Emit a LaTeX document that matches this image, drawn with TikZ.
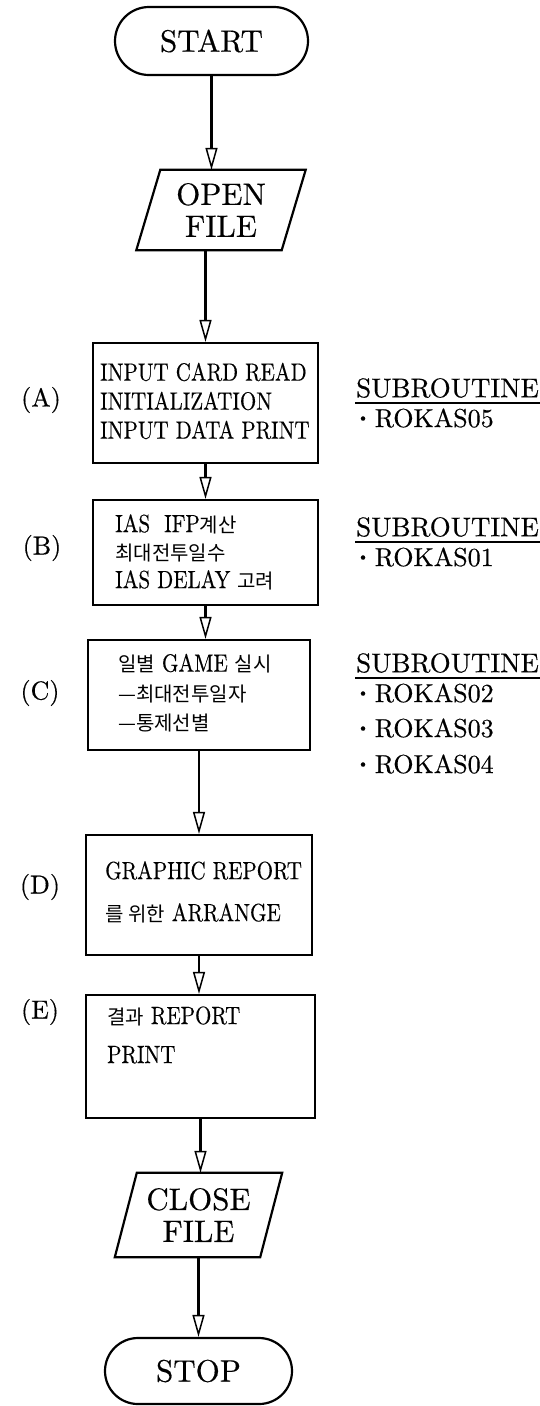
\documentclass[tikz,border=0pt]{standalone}
\usepackage{fontspec}
\usetikzlibrary{arrows.meta,shapes.misc,calc}
\setmainfont{lmroman10-regular}[Extension=.otf, FakeBold=0.4]
\newfontfamily\condlm{lmroman10-regular}[Extension=.otf, FakeStretch=0.84, FakeBold=0.4]
\newfontfamily\kr{Noto Sans CJK KR}
\newcommand{\K}[1]{{\kr\fontsize{20}{20}\selectfont #1}}
\tikzset{
  boxnode/.style={draw, line width=2.2pt, inner sep=0pt},
  termnode/.style={draw, line width=2.2pt, rounded rectangle, inner sep=0pt, font=\fontsize{31}{31}\selectfont},
  paranode/.style={inner sep=0pt, align=center, font=\fontsize{31}{31}\selectfont},
  paraline/.style={line width=2.2pt, line join=miter},
  arr/.style={line width=2.6pt, -{Triangle[open,length=22pt,width=12pt,line width=1.5pt]}},
  boxtext/.style={anchor=west, align=left, inner sep=0pt},
  lbl/.style={inner sep=0pt, font=\fontsize{26}{26}\selectfont},
  subhead/.style={anchor=west, inner sep=0pt, font=\fontsize{27}{27}\selectfont},
  subitem/.style={anchor=west, inner sep=0pt, font=\fontsize{26}{26}\selectfont},
  uline/.style={line width=1.8pt}
}
\newcommand{\bul}{\raisebox{5pt}{\fontsize{15}{15}\selectfont\textbullet}\hspace{6pt}}
\begin{document}
\begin{tikzpicture}[x=1pt,y=-1pt]
\useasboundingbox (0,0) rectangle (540,1406);

% terminals
\node[termnode, minimum width=193, minimum height=68] (start) at (211.5,41) {START};
\node[termnode, minimum width=187, minimum height=66] (stop) at (198.5,1371) {STOP};

% open file
\node[paranode, minimum width=145, minimum height=80] (open) at (221,210) {OPEN\\[1pt]FILE};
\draw[paraline] ($(open.north west)+(12,0)$) -- ($(open.north east)+(12,0)$) -- ($(open.south east)+(-12,0)$) -- ($(open.south west)+(-12,0)$) -- cycle;

% close file
\node[paranode, minimum width=145, minimum height=84] (close) at (198.5,1215) {CLOSE\\[1pt]FILE};
\draw[paraline] ($(close.north west)+(11,0)$) -- ($(close.north east)+(11,0)$) -- ($(close.south east)+(-11,0)$) -- ($(close.south west)+(-11,0)$) -- cycle;

% process boxes
\node[boxnode, minimum width=225, minimum height=120] (a) at (205.5,403) {};
\node[boxnode, minimum width=225, minimum height=105] (b) at (205.5,552.5) {};
\node[boxnode, minimum width=222, minimum height=110] (c) at (199,695) {};
\node[boxnode, minimum width=226, minimum height=120] (d) at (199,895) {};
\node[boxnode, minimum width=229, minimum height=123] (e) at (200.5,1056.5) {};

% box texts
\node[boxtext, font=\condlm\fontsize{25}{29}\selectfont] (atext) at (100,401)
  {INPUT CARD READ\\INITIALIZATION\\INPUT DATA PRINT};
\node[boxtext, font=\condlm\fontsize{25}{28}\selectfont] (btext) at (115,552)
  {IAS~~IFP\K{계산}\\\K{최대전투일수}\\IAS DELAY \K{고려}};
\node[boxtext, font=\condlm\fontsize{25}{29.5}\selectfont] (ctext) at (118,693)
  {\K{일별} GAME \K{실시}\\\K{—최대전투일자}\\\K{—통제선별}};
\node[boxtext, font=\condlm\fontsize{25}{42}\selectfont] (dtext) at (105,892)
  {GRAPHIC REPORT\\\K{를 위한} ARRANGE};
\node[boxtext, font=\condlm\fontsize{25}{39}\selectfont] (etext) at (107,1035)
  {\K{결과} REPORT\\PRINT};

% side labels
\node[lbl] (la) at (41,400) {(A)};
\node[lbl] (lb) at (42,548) {(B)};
\node[lbl] (lc) at (40,693) {(C)};
\node[lbl] (ld) at (40,887) {(D)};
\node[lbl] (le) at (40,1012) {(E)};

% subroutine notes
\node[subhead] (sa) at (356,388) {SUBROUTINE};
\draw[uline] ($(sa.south west)+(-1,5)$) -- ($(sa.south west)+(184,5)$);
\node[subitem] (ra5) at (357,418) {\bul ROKAS05};

\node[subhead] (sb) at (356,527) {SUBROUTINE};
\draw[uline] ($(sb.south west)+(-1,5)$) -- ($(sb.south west)+(184,5)$);
\node[subitem] (rb1) at (357,557) {\bul ROKAS01};

\node[subhead] (sc) at (356,663) {SUBROUTINE};
\draw[uline] ($(sc.south west)+(-1,5)$) -- ($(sc.south west)+(184,5)$);
\node[subitem] (rc2) at (357,693) {\bul ROKAS02};
\node[subitem] (rc3) at (357,728) {\bul ROKAS03};
\node[subitem] (rc4) at (357,764) {\bul ROKAS04};

% connectors
\draw[arr] (start.south) -- (start.south |- open.north);
\draw[arr] (open.south -| a.north) -- (a.north);
\draw[arr] (a.south) -- (a.south |- b.north);
\draw[arr] (b.south) -- (b.south |- c.north);
\draw[arr] (c.south -| d.north) -- (d.north);
\draw[arr] (d.south) -- (d.south |- e.north);
\draw[arr] (e.south) -- (e.south |- close.north);
\draw[arr] (close.south -| stop.north) -- (stop.north);
\end{tikzpicture}
\end{document}
